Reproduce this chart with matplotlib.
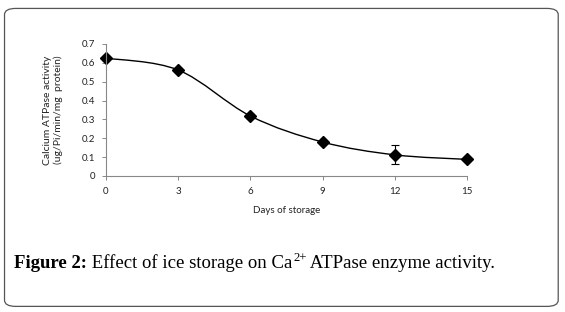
import numpy as np
import matplotlib
matplotlib.use('Agg')
import matplotlib.pyplot as plt
from matplotlib.path import Path
from matplotlib.patches import PathPatch, FancyBboxPatch

# data
days = [0, 3, 6, 9, 12, 15]
activity = [0.625, 0.562, 0.318, 0.180, 0.112, 0.088]
err = [0.012, 0.010, 0.012, 0.008, 0.050, 0.006]

fig = plt.figure(figsize=(5.65, 3.12), dpi=100)

# rounded frame round the figure
frame = FancyBboxPatch((0.008, 0.018), 0.98, 0.955, boxstyle="round,pad=0,rounding_size=0.02",
                       transform=fig.transFigure, fill=False, ec='#555555', lw=0.9)
fig.patches.append(frame)

ax = fig.add_axes([0.1876, 0.436, 0.639, 0.423])

# smooth line like excel (catmull-rom -> bezier)
x = np.array(days, float); y = np.array(activity, float)
verts = [(x[0], y[0])]; codes = [Path.MOVETO]
for i in range(len(x) - 1):
    p0 = (x[i-1], y[i-1]) if i > 0 else (x[i], y[i])
    p1 = (x[i], y[i]); p2 = (x[i+1], y[i+1])
    p3 = (x[i+2], y[i+2]) if i + 2 < len(x) else p2
    c1 = (p1[0] + (p2[0]-p0[0])/6, p1[1] + (p2[1]-p0[1])/6)
    c2 = (p2[0] - (p3[0]-p1[0])/6, p2[1] - (p3[1]-p1[1])/6)
    verts += [c1, c2, p2]; codes += [Path.CURVE4]*3
ax.add_patch(PathPatch(Path(verts, codes), fill=False, ec='black', lw=1.0))

ax.errorbar(days, activity, yerr=err, fmt='D', color='black', ms=6,
            ecolor='black', elinewidth=0.8, capsize=3, capthick=0.8)

ax.set_xlim(0, 15)
ax.set_ylim(0, 0.7)
ax.set_xticks(days)
ax.set_yticks(np.arange(0, 0.71, 0.1))
ax.set_yticklabels(['0', '0.1', '0.2', '0.3', '0.4', '0.5', '0.6', '0.7'])
ax.spines['top'].set_visible(False)
ax.spines['right'].set_visible(False)
for s in ['left', 'bottom']:
    ax.spines[s].set_color('#888888')
    ax.spines[s].set_linewidth(0.8)
ax.tick_params(labelsize=7, length=3, width=0.7, color='#888888', pad=5, labelcolor='#222222')
for t in ax.get_xticklabels() + ax.get_yticklabels():
    t.set_family('Lato')
for c in ax.get_children():
    c.set_clip_on(False)

ax.set_xlabel('Days of storage', fontsize=7, family='Lato', labelpad=7, color='#222222')
ax.set_ylabel('Calcium ATPase activity\n(ug/Pi/min/mg  protein)', fontsize=7.5,
              family='Lato', labelpad=13, linespacing=1.25, color='#222222')

# caption, built piece by piece
fs = 13.5
ypos = 0.14
fig.canvas.draw()
r = fig.canvas.get_renderer()
xp = 0.025
pieces = [('Figure 2:', fs, 'bold', 0, 0), (' Effect of ice storage on Ca', fs, 'normal', 0, 0.0012),
          ('2+', fs * 0.68, 'normal', 0.022, 0), (' ATPase enzyme activity.', fs, 'normal', 0, 0)]
for txt, size, wt, dy, gap in pieces:
    t = fig.text(xp, ypos + dy, txt, fontsize=size, family='Liberation Serif', weight=wt)
    bb = t.get_window_extent(renderer=r)
    xp = bb.x1 / fig.bbox.width + gap

fig.savefig('out.png', dpi=100)
